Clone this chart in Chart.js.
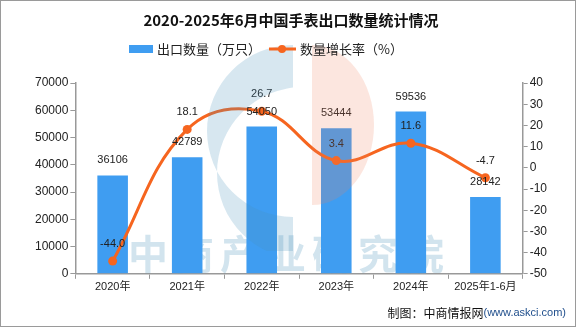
<!DOCTYPE html>
<html>
<head>
<meta charset="utf-8">
<script src="https://cdn.jsdelivr.net/npm/chart.js@4"></script>
<style>
    html, body { margin:0; padding:0; background:#fff; }
    #box { width:576px; height:327px; box-sizing:border-box; border:1px solid #9a9a9a; }
</style>
</head>
<body>
<div id="box"><canvas id="grafico" width="574" height="325"></canvas></div>
<script>
// ==========================================================
// Dados
// ==========================================================

const anos = ["2020年", "2021年", "2022年", "2023年", "2024年", "2025年1-6月"];
const exportacao = [36106, 42789, 54050, 53444, 59536, 28142];
const crescimento = [-44.0, 18.1, 26.7, 3.4, 11.6, -4.7];

const CORES = {
    barra: "#3F9DF1",
    linha: "#F6651F",
    eixo: "#999999",
    texto: "#222222"
};

const FONTE = "'Liberation Sans', 'Noto Sans CJK SC', sans-serif";
const FONTE_CJK = "'Noto Sans CJK SC', sans-serif";

// ==========================================================
// Plugin: marca d'água (texto abaixo das barras)
// ==========================================================

const marcaTexto = {
    id: "marcaTexto",
    beforeDatasetsDraw(chart){
        const {ctx} = chart;
        ctx.save();
        ctx.globalAlpha = 0.25;
        ctx.fillStyle = "rgb(75,147,187)";
        ctx.font = "bold 40px " + FONTE_CJK;
        ctx.textAlign = "center";
        ctx.textBaseline = "middle";
        const letras = "中商产业研究院".split("");
        letras.forEach((l, i)=>{
            ctx.fillText(l, 147 + i * 46, 253);
        });
        ctx.restore();
    }
};

// ==========================================================
// Plugin: rótulos de valores
// ==========================================================

const rotulos = {
    id: "rotulos",
    afterDatasetsDraw(chart){
        const {ctx} = chart;
        ctx.save();
        ctx.font = "11px " + FONTE;
        ctx.fillStyle = CORES.texto;
        ctx.textAlign = "center";
        ctx.textBaseline = "middle";

        chart.getDatasetMeta(0).data.forEach((el, i)=>{
            ctx.fillText(String(exportacao[i]), el.x, el.y - 15);
        });

        chart.getDatasetMeta(1).data.forEach((el, i)=>{
            ctx.fillText(crescimento[i].toFixed(1), el.x, el.y - 17);
        });

        ctx.restore();
    }
};

// ==========================================================
// Plugin: logo, legenda e rodapé
// ==========================================================

const extras = {
    id: "extras",
    afterDraw(chart){
        const {ctx} = chart;

        // logo (por cima de tudo, translúcido)
        ctx.save();
        ctx.globalAlpha = 0.22;
        ctx.fillStyle = "rgb(75,147,187)";
        ctx.beginPath();
        ctx.rect(150, 30, 142, 220);
        ctx.clip();
        ctx.beginPath();
        ctx.arc(292, 130, 86, 0, Math.PI * 2);
        ctx.arc(302, 172, 86, 0, Math.PI * 2, true);
        ctx.fill("evenodd");
        ctx.restore();

        ctx.save();
        ctx.globalAlpha = 0.2;
        ctx.fillStyle = "rgb(240,128,96)";
        ctx.beginPath();
        ctx.ellipse(311, 124, 62, 80, 0, -Math.PI / 2, Math.PI / 2);
        ctx.closePath();
        ctx.fill();
        ctx.restore();

        // legenda
        ctx.save();
        ctx.font = "13px " + FONTE_CJK;
        ctx.textBaseline = "middle";
        ctx.fillStyle = CORES.barra;
        ctx.fillRect(128, 44, 24, 8);
        ctx.fillStyle = CORES.texto;
        ctx.fillText("出口数量（万只）", 156, 48);

        ctx.strokeStyle = CORES.linha;
        ctx.lineWidth = 3;
        ctx.beginPath();
        ctx.moveTo(268, 48);
        ctx.lineTo(295, 48);
        ctx.stroke();
        ctx.fillStyle = CORES.linha;
        ctx.beginPath();
        ctx.arc(281, 48, 4, 0, Math.PI * 2);
        ctx.fill();
        ctx.fillStyle = CORES.texto;
        ctx.fillText("数量增长率（%）", 299, 48);
        ctx.restore();

        // rodapé
        ctx.save();
        ctx.textBaseline = "middle";
        ctx.textAlign = "right";
        ctx.font = "11px " + FONTE;
        ctx.fillStyle = "#1F4E8C";
        const site = "(www.askci.com)";
        ctx.fillText(site, 565, 312);
        const largura = ctx.measureText(site).width;
        ctx.font = "12px " + FONTE_CJK;
        ctx.fillStyle = "#111";
        ctx.fillText("制图：中商情报网", 565 - largura, 312);
        ctx.restore();
    }
};

// ==========================================================
// Gráfico
// ==========================================================

new Chart(document.getElementById("grafico"), {
    data: {
        labels: anos,
        datasets: [
            {
                type: "bar",
                label: "出口数量（万只）",
                data: exportacao,
                backgroundColor: CORES.barra,
                yAxisID: "y",
                categoryPercentage: 1,
                barPercentage: 0.41,
                order: 2
            },
            {
                type: "line",
                label: "数量增长率（%）",
                data: crescimento,
                borderColor: CORES.linha,
                backgroundColor: CORES.linha,
                borderWidth: 3,
                pointRadius: 4.5,
                pointBackgroundColor: CORES.linha,
                pointBorderWidth: 0,
                tension: 0.4,
                yAxisID: "y1",
                order: 1
            }
        ]
    },
    options: {
        responsive: false,
        animation: false,
        layout: {
            padding: { left: 32, right: 26, top: 0, bottom: 30 }
        },
        plugins: {
            legend: { display: false },
            tooltip: { enabled: false },
            title: {
                display: true,
                text: "2020-2025年6月中国手表出口数量统计情况",
                color: "#111",
                font: { family: FONTE_CJK, size: 15, weight: "bold" },
                padding: { top: 10, bottom: 54 }
            }
        },
        scales: {
            x: {
                offset: true,
                grid: {
                    offset: true,
                    drawOnChartArea: false,
                    color: CORES.eixo,
                    tickLength: 5
                },
                border: { color: CORES.eixo, width: 1.5 },
                ticks: {
                    color: CORES.texto,
                    font: { family: FONTE, size: 11 },
                    padding: 2,
                    maxRotation: 0
                }
            },
            y: {
                position: "left",
                min: 0,
                max: 70000,
                ticks: {
                    stepSize: 10000,
                    color: CORES.texto,
                    font: { family: FONTE, size: 12 },
                    padding: 2,
                    callback: v => String(v)
                },
                grid: {
                    drawOnChartArea: false,
                    color: CORES.eixo,
                    tickLength: 5
                },
                border: { color: CORES.eixo, width: 1.5 }
            },
            y1: {
                position: "right",
                min: -50,
                max: 40,
                ticks: {
                    stepSize: 10,
                    color: CORES.texto,
                    font: { family: FONTE, size: 12 },
                    padding: 2,
                    callback: v => String(v)
                },
                grid: {
                    drawOnChartArea: false,
                    color: CORES.eixo,
                    tickLength: 5
                },
                border: { color: CORES.eixo, width: 1.5 }
            }
        }
    },
    plugins: [marcaTexto, rotulos, extras]
});
</script>
</body>
</html>
